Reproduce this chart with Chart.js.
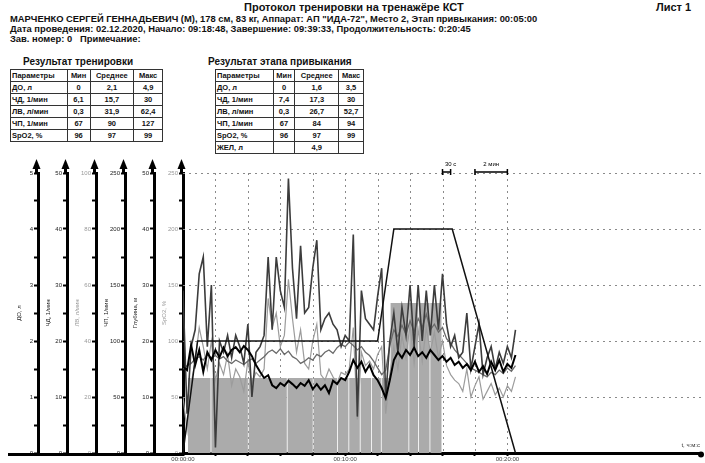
<!DOCTYPE html>
<html>
<head>
<meta charset="utf-8">
<script src="https://cdn.jsdelivr.net/npm/chart.js@4/dist/chart.umd.min.js"></script>
<style>
  html, body { margin: 0; padding: 0; background: #fff; }
  body { width: 705px; height: 463px; position: relative; overflow: hidden; font-family: "Liberation Sans", Arial, sans-serif; color: #111; }
  .t { position: absolute; white-space: nowrap; font-weight: bold; }
  table { position: absolute; border-collapse: collapse; border: 1.5px solid #222; font-size: 7.5px; font-weight: bold; }
  td { border: 1px solid #333; height: 11px; padding: 0 1px; line-height: 11px; text-align: center; }
  td:first-child { text-align: left; }
  #chartBox { position: absolute; left: 0; top: 150px; width: 705px; height: 313px; }
</style>
</head>
<body>
<div class="t" style="left:244px;top:1px;font-size:11px;">Протокол тренировки на тренажёре КСТ</div>
<div class="t" style="left:656px;top:1px;font-size:11px;">Лист 1</div>
<div class="t" style="left:10px;top:13px;font-size:9.4px;">МАРЧЕНКО СЕРГЕЙ ГЕННАДЬЕВИЧ (М), 178 см, 83 кг, Аппарат: АП "ИДА-72", Место 2, Этап привыкания: 00:05:00</div>
<div class="t" style="left:10px;top:23px;font-size:9.4px;">Дата проведения: 02.12.2020, Начало: 09:18:48, Завершение: 09:39:33, Продолжительность: 0:20:45</div>
<div class="t" style="left:10px;top:33px;font-size:9.4px;">Зав. номер: 0&nbsp;&nbsp; Примечание:</div>

<div class="t" style="left:23px;top:56px;font-size:10px;">Результат тренировки</div>
<table style="left:10px;top:69px;width:153px;">
  <colgroup><col style="width:57px"><col style="width:23px"><col style="width:44px"><col style="width:29px"></colgroup>
  <tr><td>Параметры</td><td>Мин</td><td>Среднее</td><td>Макс</td></tr>
  <tr><td>ДО, л</td><td>0</td><td>2,1</td><td>4,9</td></tr>
  <tr><td>ЧД, 1/мин</td><td>6,1</td><td>15,7</td><td>30</td></tr>
  <tr><td>ЛВ, л/мин</td><td>0,3</td><td>31,9</td><td>62,4</td></tr>
  <tr><td>ЧП, 1/мин</td><td>67</td><td>90</td><td>127</td></tr>
  <tr><td>SpO2, %</td><td>96</td><td>97</td><td>99</td></tr>
</table>

<div class="t" style="left:208px;top:56px;font-size:10px;">Результат этапа привыкания</div>
<table style="left:215px;top:69px;width:149px;">
  <colgroup><col style="width:58px"><col style="width:22px"><col style="width:44px"><col style="width:25px"></colgroup>
  <tr><td>Параметры</td><td>Мин</td><td>Среднее</td><td>Макс</td></tr>
  <tr><td>ДО, л</td><td>0</td><td>1,6</td><td>3,5</td></tr>
  <tr><td>ЧД, 1/мин</td><td>7,4</td><td>17,3</td><td>30</td></tr>
  <tr><td>ЛВ, л/мин</td><td>0,3</td><td>26,7</td><td>52,7</td></tr>
  <tr><td>ЧП, 1/мин</td><td>67</td><td>84</td><td>94</td></tr>
  <tr><td>SpO2, %</td><td>96</td><td>97</td><td>99</td></tr>
  <tr><td>ЖЕЛ, л</td><td></td><td>4,9</td><td></td></tr>
</table>

<div id="chartBox"><canvas id="chart" width="705" height="313"></canvas></div>

<script>
// время, мин (шаг 15 с)
const times = [
  0, 0.25, 0.5, 0.75, 1, 1.25, 1.5, 1.75,
  2, 2.25, 2.5, 2.75, 3, 3.25, 3.5, 3.75,
  4, 4.25, 4.5, 4.75, 5, 5.25, 5.5, 5.75,
  6, 6.25, 6.5, 6.75, 7, 7.25, 7.5, 7.75,
  8, 8.25, 8.5, 8.75, 9, 9.25, 9.5, 9.75,
  10, 10.25, 10.5, 10.75, 11, 11.25, 11.5, 11.75,
  12, 12.25, 12.5, 12.75, 13, 13.25, 13.5, 13.75,
  14, 14.25, 14.5, 14.75, 15, 15.25, 15.5, 15.75,
  16, 16.25, 16.5, 16.75, 17, 17.25, 17.5, 17.75,
  18, 18.25, 18.5, 18.75, 19, 19.25, 19.5, 19.75,
  20, 20.25, 20.5
];

// ДО, л
const doValues = [
  2.9, 0.7, 1.9, 2.2, 3.2, 3.5, 1.9, 3.0,
  0.1, 2.0, 1.8, 2.1, 1.7, 2.1, 1.9, 1.6,
  2.3, 1.0, 1.8, 1.9, 2.1, 3.5, 2.2, 3.5,
  2.9, 2.6, 4.9, 3.3, 2.4, 3.7, 2.5, 2.6,
  3.3, 3.8, 2.2, 2.4, 2.5, 2.3, 2.2, 1.9,
  2.1, 2.0, 3.9, 0.65, 2.9, 2.4, 2.3, 2.2,
  2.8, 3.3, 1.0, 2.0, 2.5, 1.8, 2.6, 2.1,
  3.0, 1.9, 3.0, 2.0, 2.9, 2.1, 3.0, 2.2,
  3.2, 2.3, 1.9, 2.1, 1.7, 1.8, 2.5, 1.5,
  1.9, 2.3, 1.4, 1.7, 1.9, 1.5, 1.8, 1.6,
  1.9, 1.7, 2.2
];

// ЧД, 1/мин
const chdValues = [
  15.4, 14.8, 19.3, 15.7, 18.4, 14.5, 18, 16.6,
  18.4, 17.1, 18.8, 17.3, 18.4, 18.9, 18, 19.1,
  18.4, 17.3, 15.7, 14.5, 13.4, 13.9, 12.1, 11.6,
  12.5, 12, 12.9, 12.3, 11.6, 12.5, 12, 13,
  11.4, 12.3, 11.3, 12.1, 10.7, 12.9, 12.3, 13.4,
  13, 14.5, 16.6, 15.2, 16.3, 14.5, 15.7, 13.9,
  13, 11.6, 9.8, 13, 16.6, 18, 17, 18.4,
  17.5, 18.8, 17.3, 18, 17, 18.4, 17.5, 16.6,
  17.3, 16.3, 17, 15.7, 16.3, 15.2, 15.9, 14.8,
  16.3, 14.5, 15.5, 14.1, 16.3, 14.8, 16.6, 14.5,
  15.9, 15.2, 17.5
];

// ЧП, 1/мин
const chpValues = [
  75, 78, 80, 84, 86, 83, 88, 85,
  87, 84, 86, 82, 80, 83, 81, 79,
  82, 84, 80, 83, 86, 90, 92, 89,
  93, 88, 91, 86, 84, 80, 82, 85,
  83, 88, 86, 90, 92, 89, 94, 97,
  95, 99, 96, 92, 95, 90, 87, 82,
  76, 70, 74, 96, 110, 104, 114, 106,
  118, 108, 120, 112, 124, 110, 115, 108,
  112, 102, 98, 92, 88, 84, 80, 76,
  74, 72, 70, 68, 72, 70, 74, 71,
  76, 73, 78
];

// шестая (серая) ось
const satValues = [
  50, 20, 62, 82, 112, 95, 75, 100,
  65, 80, 70, 88, 60, 75, 68, 55,
  82, 62, 72, 68, 75, 138, 112, 125,
  95, 105, 155, 120, 90, 110, 80, 75,
  100, 115, 70, 65, 75, 68, 62, 72,
  70, 75, 112, 30, 90, 78, 82, 75,
  88, 95, 35, 70, 95, 75, 105, 85,
  115, 80, 110, 82, 112, 90, 108, 85,
  100, 78, 70, 65, 62, 55, 75, 50,
  60, 68, 48, 55, 62, 52, 58, 50,
  60, 55, 68
];

// ЛВ, л/мин (серая заливка, ступенями)
const lvTimes  = [0.3, 1.7, 1.75, 4.0, 4.05, 6.4, 6.45, 8.0, 8.05, 9.5, 9.55, 10.2, 10.25, 10.9, 10.95, 11.6, 11.65, 12.2, 12.25, 12.8, 13.9, 13.95, 14.5, 14.55, 15.2, 15.25, 15.95];
const lvValues = [26.8, 0, 26.8, 0, 26.8, 0, 26.8, 0, 26.8, 0, 26.8, 0, 26.8, 0, 26.8, 0, 26.8, 0, 26.8, 53.6, 0, 53.6, 0, 53.6, 0, 53.6, 0];

// Глубина, м
const depthTimes  = [0, 0.9, 12.0, 13.0, 16.6, 20.5];
const depthValues = [0, 20, 20, 40, 40, 0];

// оси слева
const axisTitles = ["ДО, л", "ЧД, 1/мин", "ЛВ, л/мин", "ЧП, 1/мин", "Глубина, м", "SpO2, %"];
const axisMax    = [5, 50, 100, 250, 50, 250];
const axisColors = ["#222", "#222", "#999", "#222", "#222", "#999"];

// ось времени
const xTickValues  = [0, 2, 4, 6, 8, 10, 12, 14, 16, 18, 20];
const xLabelValues = [0, 10, 20];

function pts(xs, ys) {
  return xs.map((x, i) => ({ x: x, y: ys[i] }));
}

function hms(min) {
  const m = String(Math.floor(min)).padStart(2, "0");
  return "00:" + m + ":00";
}

// --- левые оси ---
const scales = {};
axisTitles.forEach((title, i) => {
  const max = axisMax[i];
  const step = max / 10;
  scales["y" + (i + 1)] = {
    type: "linear",
    position: "left",
    weight: 10 - i,
    min: 0,
    max: max,
    afterBuildTicks(s) {
      const arr = [];
      for (let k = 0; k <= 10; k++) arr.push({ value: step * k });
      s.ticks = arr;
    },
    afterFit(s) { s.width = 29; },
    ticks: {
      autoSkip: false,
      padding: 1,
      color: axisColors[i],
      font: { size: 6, family: "Liberation Sans" },
      callback: (v) => (Math.round(v / step) % 2 === 0 ? String(v) : "")
    },
    grid: { drawOnChartArea: false, tickLength: 4, tickWidth: 2, color: "#000", tickColor: "#000" },
    border: { display: true, width: 3, color: "#000" },
    title: {
      display: true,
      text: title,
      color: axisColors[i],
      font: { size: 6, family: "Liberation Sans" },
      padding: { top: 7, bottom: 0 }
    }
  };
});

scales.x = {
  type: "linear",
  min: 0,
  max: 32,
  afterBuildTicks(s) { s.ticks = xTickValues.map(v => ({ value: v })); },
  afterFit(s) { s.height = 10; },
  ticks: {
    autoSkip: false,
    maxRotation: 0,
    padding: 0,
    color: "#444",
    font: { size: 6, family: "Liberation Sans" },
    callback: (v) => (xLabelValues.includes(v) ? hms(v) : "")
  },
  grid: { drawOnChartArea: false, tickLength: 3, tickWidth: 2, color: "#000", tickColor: "#000" },
  border: { display: true, width: 3, color: "#000" }
};

// --- сетка, стрелки и подписи ---
const decor = {
  id: "decor",
  beforeDatasetsDraw(chart) {
    const { ctx, chartArea: a } = chart;
    const y1 = chart.scales.y1, x = chart.scales.x;
    ctx.save();
    ctx.strokeStyle = "#8a8a8a";
    ctx.lineWidth = 1;
    ctx.setLineDash([2, 4]);
    [1, 2, 3, 4, 5].forEach(v => {
      const py = Math.round(y1.getPixelForValue(v)) + 0.5;
      ctx.beginPath(); ctx.moveTo(a.left, py); ctx.lineTo(a.right, py); ctx.stroke();
    });
    xTickValues.slice(1).forEach(v => {
      const px = Math.round(x.getPixelForValue(v)) + 0.5;
      ctx.beginPath(); ctx.moveTo(px, a.top); ctx.lineTo(px, a.bottom); ctx.stroke();
    });
    ctx.restore();
  },
  afterDraw(chart) {
    const { ctx, chartArea: a } = chart;
    const x = chart.scales.x;
    ctx.save();
    ctx.fillStyle = "#000";
    ctx.strokeStyle = "#000";
    // стрелки на вертикальных осях
    Object.keys(chart.scales).filter(k => k[0] === "y").forEach(k => {
      const s = chart.scales[k];
      const px = s.right - 1.5;
      ctx.lineWidth = 3;
      ctx.beginPath(); ctx.moveTo(px, a.top); ctx.lineTo(px, a.top - 6); ctx.stroke();
      ctx.beginPath();
      ctx.moveTo(px, a.top - 14); ctx.lineTo(px - 4, a.top - 4); ctx.lineTo(px + 4, a.top - 4);
      ctx.closePath(); ctx.fill();
    });
    // продолжение оси времени влево и точка справа
    ctx.lineWidth = 3;
    ctx.beginPath(); ctx.moveTo(8, a.bottom + 1.5); ctx.lineTo(a.left, a.bottom + 1.5); ctx.stroke();
    ctx.beginPath(); ctx.arc(a.right - 1, a.bottom + 1.5, 3, 0, Math.PI * 2); ctx.fill();
    // масштабные отрезки
    const by = a.top - 1;
    const bar = (t0, t1, label) => {
      const p0 = x.getPixelForValue(t0), p1 = x.getPixelForValue(t1);
      ctx.lineWidth = 1.5;
      ctx.beginPath(); ctx.moveTo(p0, by); ctx.lineTo(p1, by); ctx.stroke();
      ctx.beginPath(); ctx.moveTo(p0, by - 3); ctx.lineTo(p0, by + 3); ctx.moveTo(p1, by - 3); ctx.lineTo(p1, by + 3); ctx.stroke();
      ctx.font = "6px 'Liberation Sans'";
      ctx.textAlign = "center";
      ctx.fillText(label, (p0 + p1) / 2 + (label.length > 4 ? 0 : 4), by - 6);
    };
    bar(16, 16.5, "30 с");
    bar(18, 20, "2 мин");
    ctx.font = "6px 'Liberation Sans'";
    ctx.textAlign = "right";
    ctx.fillStyle = "#333";
    ctx.fillText("t, ч:м:с", a.right - 2, a.bottom - 6);
    ctx.restore();
  }
};

const ctx = document.getElementById("chart").getContext("2d");
new Chart(ctx, {
  type: "line",
  data: {
    datasets: [
      { label: "Глубина", data: pts(depthTimes, depthValues), yAxisID: "y5", borderColor: "#111", borderWidth: 1.5, order: 1 },
      { label: "ЧД", data: pts(times, chdValues), yAxisID: "y2", borderColor: "#000", borderWidth: 2, order: 2 },
      { label: "ДО", data: pts(times, doValues), yAxisID: "y1", borderColor: "#3c3c3c", borderWidth: 1.6, order: 3 },
      { label: "ЧП", data: pts(times, chpValues), yAxisID: "y4", borderColor: "#6a6a6a", borderWidth: 1.3, order: 4 },
      { label: "SpO2", data: pts(times, satValues), yAxisID: "y6", borderColor: "#9c9c9c", borderWidth: 1.2, order: 5 },
      { label: "ЛВ", data: pts(lvTimes, lvValues), yAxisID: "y3", stepped: true, fill: "origin",
        backgroundColor: "#ababab", borderColor: "#ababab", borderWidth: 0, order: 10 }
    ]
  },
  options: {
    responsive: false,
    devicePixelRatio: 1,
    animation: false,
    events: [],
    elements: { point: { radius: 0 }, line: { tension: 0 } },
    layout: { padding: { top: 23, left: 9, right: 3, bottom: 0 } },
    plugins: { legend: { display: false }, tooltip: { enabled: false } },
    scales: scales
  },
  plugins: [decor]
});
</script>
</body>
</html>
